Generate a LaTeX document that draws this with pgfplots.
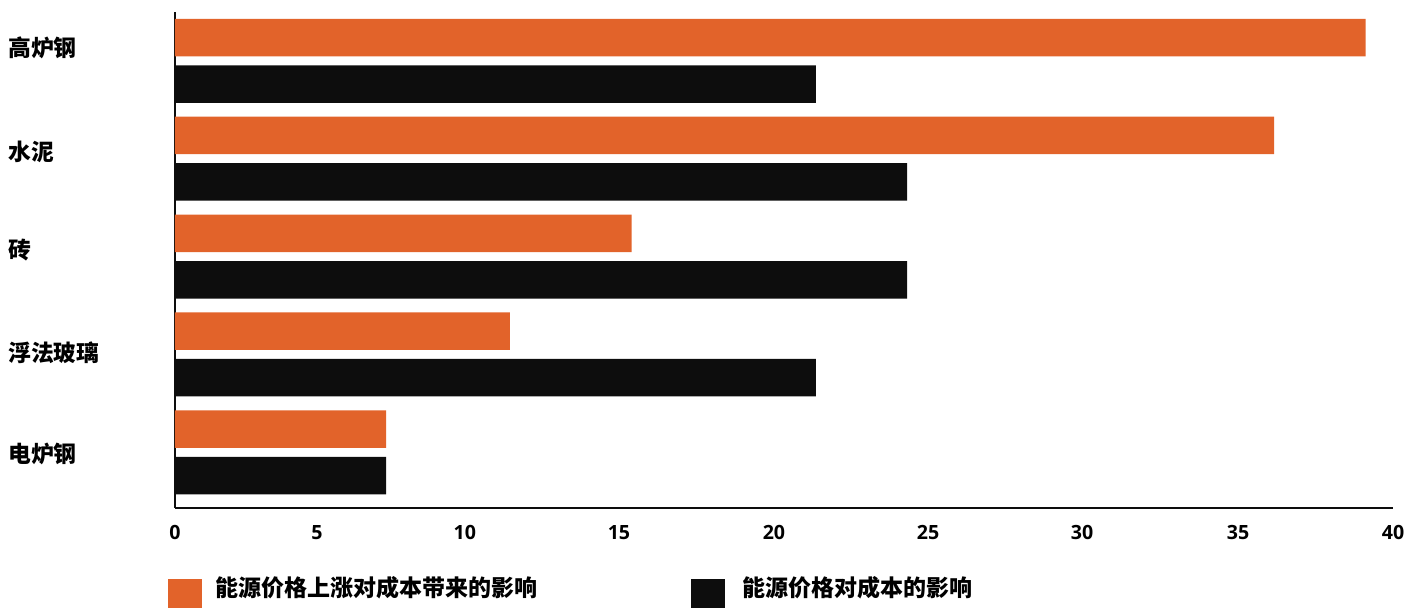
\documentclass[border=0pt]{standalone}
\usepackage{pgfplots}
\pgfplotsset{compat=1.18}
\usepackage{fontspec}
\setmainfont{Noto Sans CJK SC}
\newfontfamily\numfont{Open Sans}
\definecolor{cOrange}{HTML}{E2632A}
\definecolor{cBlack}{HTML}{0D0D0D}
\begin{document}
\begin{tikzpicture}
\path[use as bounding box] (0,0) rectangle (710.5pt,-303.5pt);
\begin{axis}[
  at={(87.5pt,-254pt)}, anchor=south west,
  scale only axis, width=609pt, height=248pt,
  xmin=0, xmax=40, ymin=12, ymax=508, y dir=reverse,
  axis x line=bottom, axis y line=left,
  axis line style={-, line width=1.1pt, color=cBlack},
  major tick length=0pt,
  xtick={0,4.66,9.52,14.58,19.67,24.73,29.79,34.91,40},
  xticklabels={0,5,10,15,20,25,30,35,40},
  /pgf/number format/assume math mode=true,
  xticklabel style={font=\numfont\bfseries\fontsize{9.8}{10}\selectfont, yshift=-5pt},
  ytick={47.5,151.5,250.5,353,454},
  yticklabels={高炉钢,水泥,砖,浮法玻璃,电炉钢},
  yticklabel style={font=\bfseries\fontsize{11.4}{12}\selectfont, anchor=west, inner sep=0pt, xshift=-83.5pt},
  legend columns=2,
  legend style={at={(-0.00575,-0.137)}, anchor=north west, draw=none, inner sep=0pt,
    font=\bfseries\fontsize{11.5}{12}\selectfont,
    nodes={inner sep=0pt, anchor=west},
    /tikz/column 1/.style={column sep=6.5pt},
    /tikz/column 2/.style={column sep=77pt},
    /tikz/column 3/.style={column sep=8.5pt}},
  legend image code/.code={\fill[#1] (0pt,-12.5pt) rectangle (17pt,4.5pt);},
]
\addplot[xbar, bar shift=0pt, bar width=18.75pt, fill=cOrange, draw=none]
  coordinates {(39.1,37.5) (36.1,135.4) (15.0,233.3) (11.0,331.2) (6.93,429.1)};
\addlegendentry{能源价格上涨对成本带来的影响}
\addplot[xbar, bar shift=0pt, bar width=18.75pt, fill=cBlack, draw=none]
  coordinates {(21.05,84) (24.04,181.9) (24.04,279.8) (21.05,377.7) (6.93,475.6)};
\addlegendentry{能源价格对成本的影响}
\end{axis}
\end{tikzpicture}
\end{document}
